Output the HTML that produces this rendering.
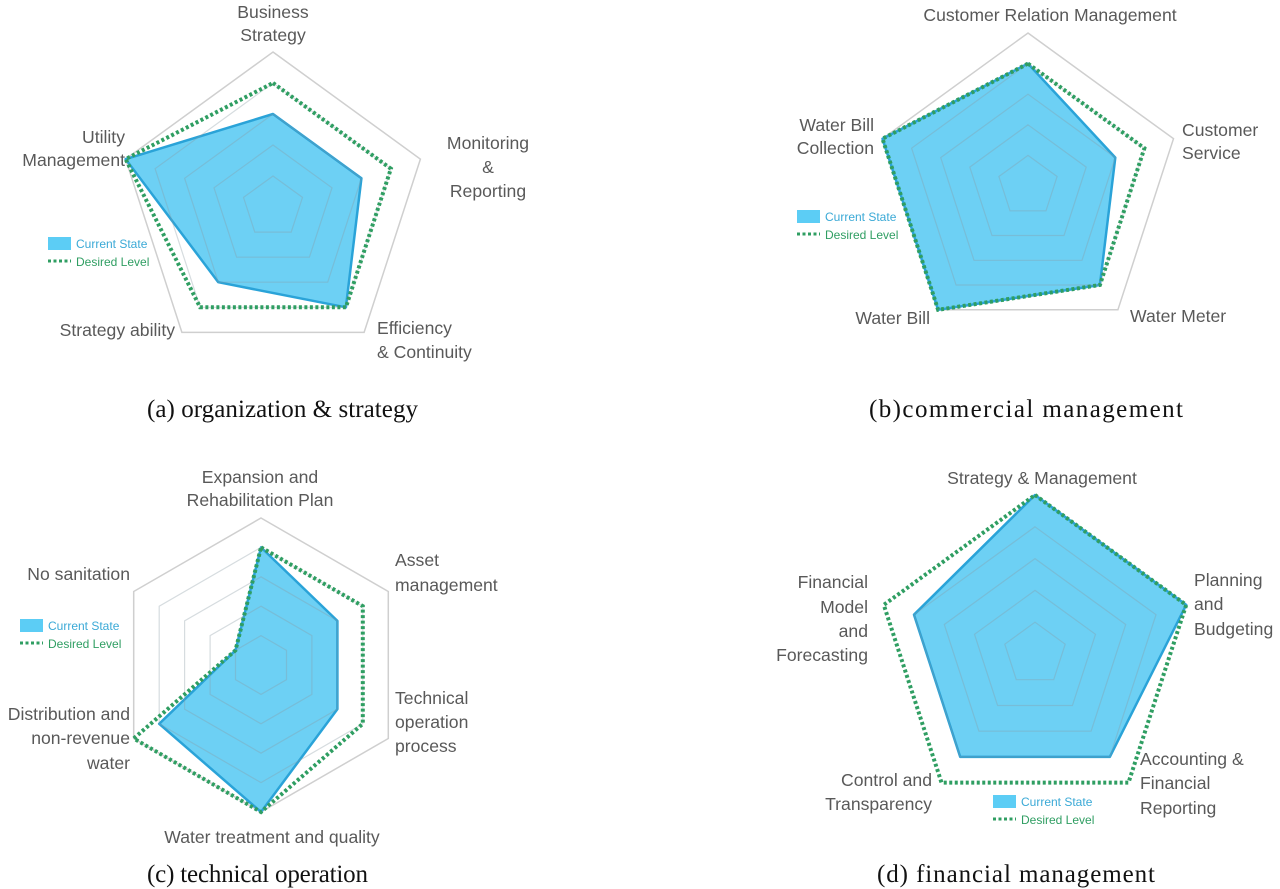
<!DOCTYPE html>
<html><head><meta charset="utf-8">
<style>
body{margin:0;background:#fff;width:1280px;height:889px;overflow:hidden}
svg{position:absolute;left:0;top:0}
.lbl{font-family:"Liberation Sans",sans-serif;font-size:17.6px;fill:#595959}
.cap{font-family:"Liberation Serif",serif;font-size:25px;fill:#111}
.leg{font-family:"Liberation Sans",sans-serif;font-size:12px}
</style></head>
<body>
<svg id="s" width="1280" height="889">
<g>
<text class="lbl" x="273" y="18" text-anchor="middle">Business</text>
<text class="lbl" x="273" y="41" text-anchor="middle">Strategy</text>
<text class="lbl" x="125" y="143" text-anchor="end">Utility</text>
<text class="lbl" x="125" y="166" text-anchor="end">Management</text>
<text class="lbl" x="488" y="149" text-anchor="middle">Monitoring</text>
<text class="lbl" x="488" y="173" text-anchor="middle">&amp;</text>
<text class="lbl" x="488" y="197" text-anchor="middle">Reporting</text>
<text class="lbl" x="175" y="336" text-anchor="end">Strategy ability</text>
<text class="lbl" x="377" y="334">Efficiency</text>
<text class="lbl" x="377" y="358">&amp; Continuity</text>
</g>
<g>
<text class="lbl" x="1050" y="21" text-anchor="middle">Customer Relation Management</text>
<text class="lbl" x="874" y="131" text-anchor="end">Water Bill</text>
<text class="lbl" x="874" y="154" text-anchor="end">Collection</text>
<text class="lbl" x="1182" y="136">Customer</text>
<text class="lbl" x="1182" y="159">Service</text>
<text class="lbl" x="930" y="324" text-anchor="end">Water Bill</text>
<text class="lbl" x="1130" y="322">Water Meter</text>
</g>
<g>
<text class="lbl" x="260" y="483" text-anchor="middle">Expansion and</text>
<text class="lbl" x="260" y="506" text-anchor="middle">Rehabilitation Plan</text>
<text class="lbl" x="395" y="566">Asset</text>
<text class="lbl" x="395" y="591">management</text>
<text class="lbl" x="130" y="580" text-anchor="end">No sanitation</text>
<text class="lbl" x="395" y="704">Technical</text>
<text class="lbl" x="395" y="728">operation</text>
<text class="lbl" x="395" y="752">process</text>
<text class="lbl" x="130" y="720" text-anchor="end">Distribution and</text>
<text class="lbl" x="130" y="744" text-anchor="end">non-revenue</text>
<text class="lbl" x="130" y="769" text-anchor="end">water</text>
<text class="lbl" x="272" y="843" text-anchor="middle">Water treatment and quality</text>
</g>
<g>
<text class="lbl" x="1042" y="484" text-anchor="middle">Strategy &amp; Management</text>
<text class="lbl" x="1194" y="586">Planning</text>
<text class="lbl" x="1194" y="610">and</text>
<text class="lbl" x="1194" y="635">Budgeting</text>
<text class="lbl" x="868" y="588" text-anchor="end">Financial</text>
<text class="lbl" x="868" y="613" text-anchor="end">Model</text>
<text class="lbl" x="868" y="637" text-anchor="end">and</text>
<text class="lbl" x="868" y="661" text-anchor="end">Forecasting</text>
<text class="lbl" x="1140" y="765">Accounting &amp;</text>
<text class="lbl" x="1140" y="789">Financial</text>
<text class="lbl" x="1140" y="814">Reporting</text>
<text class="lbl" x="932" y="786" text-anchor="end">Control and</text>
<text class="lbl" x="932" y="810" text-anchor="end">Transparency</text>
</g>
<text class="cap" x="147" y="417" textLength="271">(a) organization &amp; strategy</text>
<text class="cap" x="869" y="417" textLength="314">(b)commercial management</text>
<text class="cap" x="147" y="882" textLength="221">(c) technical operation</text>
<text class="cap" x="877" y="882" textLength="278">(d) financial management</text>
</svg>
<script>
const catsA = ["Business Strategy","Monitoring & Reporting","Efficiency & Continuity","Strategy ability","Utility Management"];
const curA = [3,3,4,3,5];
const desA = [4,4,4,4,5];
const catsB = ["Customer Relation Management","Customer Service","Water Meter","Water Bill","Water Bill Collection"];
const curB = [4,3,4,5,5];
const desB = [4,4,4,5,5];
const catsC = ["Expansion and Rehabilitation Plan","Asset management","Technical operation process","Water treatment and quality","Distribution and non-revenue water","No sanitation"];
const curC = [4,3,3,5,4,1];
const desC = [4,4,4,5,5,1];
const catsD = ["Strategy & Management","Planning and Budgeting","Accounting & Financial Reporting","Control and Transparency","Financial Model and Forecasting"];
const curD = [5,5,4,4,4];
const desD = [5,5,5,5,5];
const MAXV = 5;

const NS = "http://www.w3.org/2000/svg";
const svg = document.getElementById("s");
function mk(tag, attrs, parent){
  const e = document.createElementNS(NS, tag);
  for (const k in attrs) e.setAttribute(k, attrs[k]);
  (parent||svg).appendChild(e);
  return e;
}
function radar(id, cats, cur, des, cx, cy, R, leg, hideOuter){
  const g = mk("g", {});
  
  
  const n = cats.length;
  const pt = (i, v) => {
    const a = -Math.PI/2 + 2*Math.PI*i/n;
    const r = R * v / MAXV;
    return [cx + r*Math.cos(a), cy + r*Math.sin(a)];
  };
  const poly = vals => vals.map((v,i)=>pt(i,v).map(x=>x.toFixed(1)).join(",")).join(" ");
  if (!hideOuter) {
    const o = mk("polygon", {points: poly(cats.map(()=>MAXV)), fill:"none", stroke:"#cfcfcf", "stroke-width":1.5}, g);
    
    
  }
  const f = mk("polygon", {points: poly(cur), fill:"#6dd0f4", stroke:"#2aa3d8", "stroke-width":2.5, "stroke-linejoin":"round"}, g);
  
  
  for (let l = 1; l < MAXV; l++) {
    const r = mk("polygon", {points: poly(cats.map(()=>l)), fill:"none", stroke:"#8a9aa3", "stroke-opacity":0.35, "stroke-width":1.2}, g);
    
    
  }
  const d = mk("polygon", {points: poly(des), fill:"none", stroke:"#2f9e62", "stroke-width":4, "stroke-dasharray":"3 2.5"}, g);
  
  
  const lg = mk("g", {}, g);
  
  
  const [lx, ly] = leg;
  mk("rect", {x:lx, y:ly, width:23, height:13, fill:"#5ccdf5"}, lg);
  const t1 = mk("text", {x:lx+28, y:ly+11, class:"leg", fill:"#3aa9d6"}, lg);
  t1.textContent = "Current State";
  mk("line", {x1:lx, y1:ly+24, x2:lx+23, y2:ly+24, stroke:"#2f9e62", "stroke-width":3, "stroke-dasharray":"3 2.5"}, lg);
  const t2 = mk("text", {x:lx+28, y:ly+29, class:"leg", fill:"#2f9e62"}, lg);
  t2.textContent = "Desired Level";
}
radar("a", catsA, curA, desA, 273, 207, 155, [48,237], false);
radar("b", catsB, curB, desB, 1028, 186, 153, [797,210], false);
radar("c", catsC, curC, desC, 261, 665, 147, [20,619], false);
radar("d", catsD, curD, desD, 1035, 654, 159, [993,795], true);
</script>
</body></html>
